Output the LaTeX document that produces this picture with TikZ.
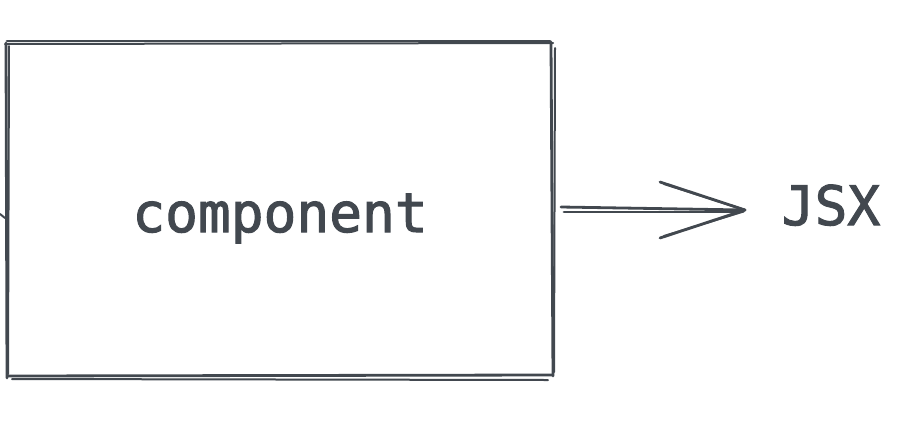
\documentclass[tikz,border=0pt]{standalone}
\usepackage{fontspec}
\newfontfamily\codefont[FakeBold=1.9]{DejaVu Sans Mono}
\definecolor{ink}{RGB}{66,72,79}
\begin{document}
\begin{tikzpicture}[x=1pt,y=-1pt,
  stroke/.style={draw=ink,line width=2.8pt,line cap=round},
  thin stroke/.style={draw=ink,line width=2pt,line cap=round},
  label/.style={text=ink,font=\codefont\fontsize{54.5}{60}\selectfont,inner sep=0pt,anchor=base}]
\useasboundingbox (0,0) rectangle (908,432);
% box
\draw[stroke] (7,41) -- (550,41);
\draw[thin stroke] (5,44) -- (553,43);
\draw[stroke] (6,43) -- (7,378);
\draw[thin stroke] (9,46) -- (8,374);
\draw[stroke] (551,42) -- (553,376);
\draw[thin stroke] (555,48) -- (554,372);
\draw[stroke] (8,376) -- (552,375);
\draw[thin stroke] (12,379) -- (548,380);
\node[label] (comp) at (280,232) {component};
\node[label] (jsx) at (831,225) {JSX};
% incoming arrow tip at left
\coordinate (intip) at (0,214);
\coordinate (inend) at (5,218);
\draw[thin stroke] (intip) -- (inend);
% arrow
\coordinate (a1) at (561,207);
\coordinate (a2) at (564,212);
\coordinate (tip) at (745,210);
\draw[stroke] (a1) -- (tip);
\draw[stroke] (a2) -- (743,212);
\draw[stroke] (660,182) -- (tip);
\draw[thin stroke] (664,184) -- (742,209);
\draw[stroke] (660,238) -- (tip);
\draw[thin stroke] (664,236) -- (742,212);
\end{tikzpicture}
\end{document}
